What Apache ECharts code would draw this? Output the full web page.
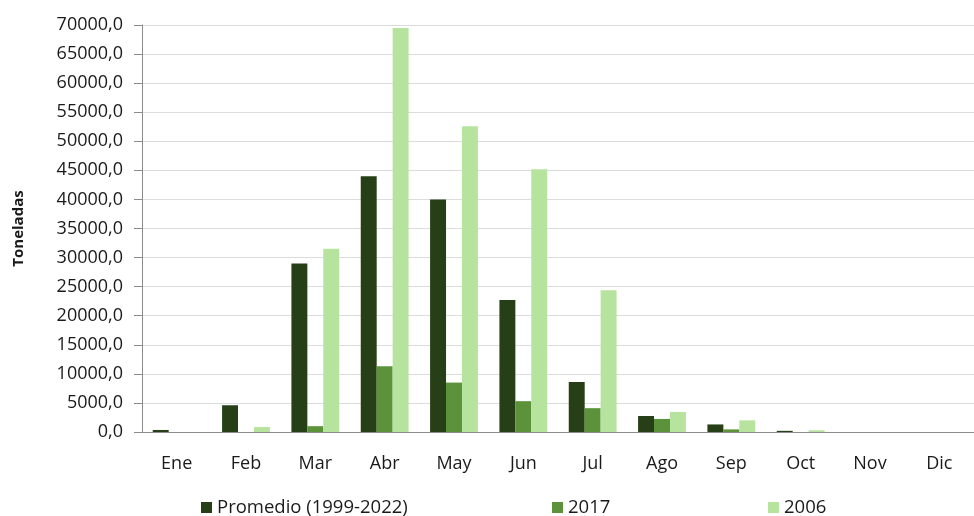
<!DOCTYPE html>
<html>
<head>
    <meta charset="UTF-8">
    <title>Toneladas por mes</title>
    <script src="https://cdn.jsdelivr.net/npm/echarts@6/dist/echarts.min.js"></script>
    <style>
        html, body { margin: 0; padding: 0; background: #fff; }
        #chart { width: 974px; height: 516px; }
    </style>
</head>
<body>
<div id="chart"></div>
<script>
    var months = ['Ene', 'Feb', 'Mar', 'Abr', 'May', 'Jun', 'Jul', 'Ago', 'Sep', 'Oct', 'Nov', 'Dic'];
    var promedio = [350, 4600, 29000, 44000, 40000, 22700, 8600, 2750, 1300, 200, 0, 0];
    var serie2017 = [0, 0, 1000, 11300, 8500, 5300, 4100, 2250, 450, 0, 0, 0];
    var serie2006 = [0, 850, 31500, 69500, 52600, 45200, 24400, 3450, 2000, 300, 0, 0];

    var font = '"Open Sans", "DejaVu Sans", sans-serif';
    var colors = ['#263f17', '#5b923a', '#b6e39d'];
    var names = ['Promedio (1999-2022)', '2017', '2006'];

    function legendAt(left, i) {
        return {
            left: left, top: 493,
            itemWidth: 11, itemHeight: 11, itemGap: 4,
            icon: 'rect',
            data: [names[i]],
            textStyle: {fontFamily: font, fontSize: 18.5, color: '#1a1a1a'}
        };
    }

    var chart = echarts.init(document.getElementById('chart'), null, {renderer: 'canvas'});
    chart.setOption({
        animation: false,
        color: colors,
        grid: {left: 142, right: -9, top: 25, bottom: 84},
        legend: [legendAt(196, 0), legendAt(547, 1), legendAt(763, 2)],
        xAxis: {
            type: 'category',
            data: months,
            axisLine: {lineStyle: {color: '#8c8c8c'}},
            axisTick: {length: 8, lineStyle: {color: '#8c8c8c'}},
            axisLabel: {margin: 23, fontFamily: font, fontSize: 18, color: '#1a1a1a'}
        },
        yAxis: {
            type: 'value',
            min: 0, max: 70000, interval: 5000,
            name: 'Toneladas',
            nameLocation: 'middle',
            nameGap: 116,
            nameTextStyle: {fontFamily: font, fontSize: 15, fontWeight: 'bold', color: '#1a1a1a'},
            axisLine: {show: true, lineStyle: {color: '#8c8c8c'}},
            axisTick: {show: true, length: 8, lineStyle: {color: '#8c8c8c'}},
            splitLine: {lineStyle: {color: '#dcdcdc'}},
            axisLabel: {
                margin: 19, fontFamily: font, fontSize: 18, color: '#1a1a1a',
                formatter: function (v) { return v.toFixed(1).replace('.', ','); }
            }
        },
        series: [
            {name: names[0], type: 'bar', data: promedio, barGap: '0%', barCategoryGap: '31%'},
            {name: names[1], type: 'bar', data: serie2017, barGap: '0%', barCategoryGap: '31%'},
            {name: names[2], type: 'bar', data: serie2006, barGap: '0%', barCategoryGap: '31%'}
        ]
    });
</script>
</body>
</html>
